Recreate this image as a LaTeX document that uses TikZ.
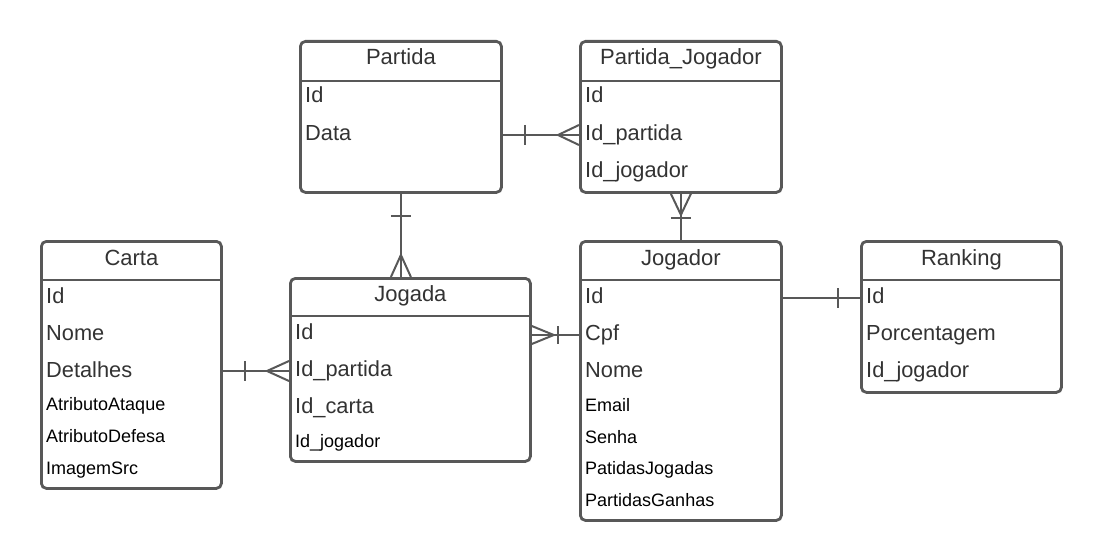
\documentclass[tikz,border=0pt]{standalone}
\usepackage{fontspec}
\setmainfont{Liberation Sans}
\usetikzlibrary{calc,positioning}

\definecolor{boxgray}{RGB}{88,88,88}
\definecolor{txtgray}{RGB}{51,51,51}

\tikzset{
  entity/.style={draw=boxgray,line width=2.8pt,rounded corners=5pt,fill=white,anchor=north west,inner sep=0pt},
  divider/.style={draw=boxgray,line width=2.8pt},
  title/.style={anchor=base,inner sep=0pt,text=txtgray,font=\fontsize{22}{26}\selectfont},
  attr/.style={anchor=base west,inner sep=0pt,text height=14pt,text depth=4pt,text=txtgray,font=\fontsize{21.8}{26}\selectfont},
  smallattr/.style={attr,text=black,font=\fontsize{18}{22}\selectfont},
  link/.style={draw=boxgray,line width=2pt}
}

\begin{document}
\begin{tikzpicture}[x=1pt,y=-1pt]
	\useasboundingbox (0,0) rectangle (1100,559);

	% entities
	\node[entity,minimum width=201pt,minimum height=151pt] (partida) at (299,40) {};
	\node[entity,minimum width=201pt,minimum height=151pt] (pj) at (579,40) {};
	\node[entity,minimum width=180pt,minimum height=247pt] (carta) at (40,240) {};
	\node[entity,minimum width=240pt,minimum height=183pt] (jogada) at (289,277) {};
	\node[entity,minimum width=201pt,minimum height=279pt] (jogador) at (579,240) {};
	\node[entity,minimum width=200pt,minimum height=151pt] (ranking) at (860,240) {};

	\draw[divider] ([yshift=-41pt]partida.north west) -- ([yshift=-41pt]partida.north east);
	\draw[divider] ([yshift=-41pt]pj.north west) -- ([yshift=-41pt]pj.north east);
	\draw[divider] ([yshift=-40pt]carta.north west) -- ([yshift=-40pt]carta.north east);
	\draw[divider] ([yshift=-39pt]jogada.north west) -- ([yshift=-39pt]jogada.north east);
	\draw[divider] ([yshift=-40pt]jogador.north west) -- ([yshift=-40pt]jogador.north east);
	\draw[divider] ([yshift=-40pt]ranking.north west) -- ([yshift=-40pt]ranking.north east);

	\node[title] (partida-title) at ([yshift=-25pt]partida.north) {Partida};
	\node[title] (pj-title) at ([yshift=-25pt]pj.north) {Partida\_Jogador};
	\node[title] (carta-title) at ([yshift=-25pt]carta.north) {Carta};
	\node[title] (jogada-title) at ([yshift=-24pt]jogada.north) {Jogada};
	\node[title] (jogador-title) at ([yshift=-25pt]jogador.north) {Jogador};
	\node[title] (ranking-title) at ([yshift=-25pt]ranking.north) {Ranking};

	% attributes
	\node[attr] (partida-id) at ($(partida.north west)+(6,63)$) {Id};
	\node[attr] (partida-data) at ($(partida.north west)+(6,100)$) {Data};

	\node[attr] (pj-id) at ($(pj.north west)+(6,63)$) {Id};
	\node[attr] (pj-idpartida) at ($(pj.north west)+(6,100)$) {Id\_partida};
	\node[attr] (pj-idjogador) at ($(pj.north west)+(6,137)$) {Id\_jogador};

	\node[attr] (carta-id) at ($(carta.north west)+(6,63)$) {Id};
	\node[attr] (carta-nome) at ($(carta.north west)+(6,100)$) {Nome};
	\node[attr] (carta-detalhes) at ($(carta.north west)+(6,137)$) {Detalhes};
	\node[smallattr] (carta-ataque) at ($(carta.north west)+(6,170)$) {AtributoAtaque};
	\node[smallattr] (carta-defesa) at ($(carta.north west)+(6,202)$) {AtributoDefesa};
	\node[smallattr] (carta-imagem) at ($(carta.north west)+(6,234)$) {ImagemSrc};

	\node[attr] (jogada-id) at ($(jogada.north west)+(6,62)$) {Id};
	\node[attr] (jogada-idpartida) at ($(jogada.north west)+(6,99)$) {Id\_partida};
	\node[attr] (jogada-idcarta) at ($(jogada.north west)+(6,136)$) {Id\_carta};
	\node[smallattr] (jogada-idjogador) at ($(jogada.north west)+(6,170)$) {Id\_jogador};

	\node[attr] (jogador-id) at ($(jogador.north west)+(6,63)$) {Id};
	\node[attr] (jogador-cpf) at ($(jogador.north west)+(6,100)$) {Cpf};
	\node[attr] (jogador-nome) at ($(jogador.north west)+(6,137)$) {Nome};
	\node[smallattr] (jogador-email) at ($(jogador.north west)+(6,171)$) {Email};
	\node[smallattr] (jogador-senha) at ($(jogador.north west)+(6,203)$) {Senha};
	\node[smallattr] (jogador-jogadas) at ($(jogador.north west)+(6,234)$) {PatidasJogadas};
	\node[smallattr] (jogador-ganhas) at ($(jogador.north west)+(6,266)$) {PartidasGanhas};

	\node[attr] (ranking-id) at ($(ranking.north west)+(6,63)$) {Id};
	\node[attr] (ranking-porc) at ($(ranking.north west)+(6,100)$) {Porcentagem};
	\node[attr] (ranking-idjogador) at ($(ranking.north west)+(6,137)$) {Id\_jogador};

	% relations
	\coordinate (r1a) at (partida.east |- pj-idpartida.west);
	\coordinate (r1b) at (pj.west |- pj-idpartida.west);
	\draw[link] (r1a) -- (r1b);
	\draw[link] ($(r1a)+(22,-10)$) -- ($(r1a)+(22,10)$);
	\draw[link] ($(r1b)+(0,-10)$) -- ($(r1b)+(-21,0)$) -- ($(r1b)+(0,10)$);

	\coordinate (r2a) at (partida.south);
	\coordinate (r2b) at (partida.south |- jogada.north);
	\draw[link] (r2a) -- (r2b);
	\draw[link] ($(r2a)+(-10,22)$) -- ($(r2a)+(10,22)$);
	\draw[link] ($(r2b)+(-10,0)$) -- ($(r2b)+(0,-22)$) -- ($(r2b)+(10,0)$);

	\coordinate (r3a) at (pj.south);
	\coordinate (r3b) at (pj.south |- jogador.north);
	\draw[link] (r3a) -- (r3b);
	\draw[link] ($(r3a)+(-10,0)$) -- ($(r3a)+(0,21)$) -- ($(r3a)+(10,0)$);
	\draw[link] ($(r3b)+(-10,-22)$) -- ($(r3b)+(10,-22)$);

	\coordinate (r4a) at (carta.east |- jogada-idpartida.west);
	\coordinate (r4b) at (jogada.west |- jogada-idpartida.west);
	\draw[link] (r4a) -- (r4b);
	\draw[link] ($(r4a)+(22,-10)$) -- ($(r4a)+(22,10)$);
	\draw[link] ($(r4b)+(0,-10)$) -- ($(r4b)+(-22,0)$) -- ($(r4b)+(0,10)$);

	\coordinate (r5a) at (jogada.east |- jogador-cpf.west);
	\coordinate (r5b) at (jogador.west |- jogador-cpf.west);
	\draw[link] (r5a) -- (r5b);
	\draw[link] ($(r5a)+(0,-9)$) -- ($(r5a)+(22,0)$) -- ($(r5a)+(0,9)$);
	\draw[link] ($(r5b)+(-21,-9)$) -- ($(r5b)+(-21,9)$);

	\coordinate (r6a) at (jogador.east |- ranking-id.west);
	\coordinate (r6b) at (ranking.west |- ranking-id.west);
	\draw[link] (r6a) -- (r6b);
	\draw[link] ($(r6b)+(-22,-10)$) -- ($(r6b)+(-22,10)$);

\end{tikzpicture}
\end{document}
